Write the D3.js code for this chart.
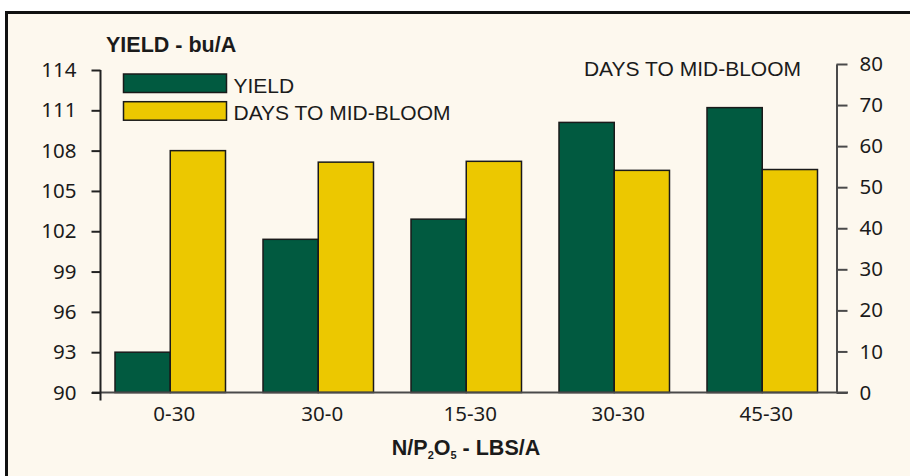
<!DOCTYPE html>
<html>
<head>
<meta charset="utf-8">
<script src="https://cdn.jsdelivr.net/npm/d3@7"></script>
<style>
  html, body { margin: 0; padding: 0; background: #ffffff; }
  svg { display: block; }
</style>
</head>
<body>
<svg id="chart" width="910" height="476"></svg>
<script>
// Treatment rates (N/P2O5, lbs per acre)
const categories = ["0-30", "30-0", "15-30", "30-30", "45-30"];
// Yield, bushels per acre (left axis)
const yieldValues = [93.0, 101.4, 102.9, 110.1, 111.2];
// Days to mid-bloom (right axis)
const bloomDays = [58.9, 56.1, 56.3, 54.1, 54.3];
// Axis tick labels
const yieldTicks = [90, 93, 96, 99, 102, 105, 108, 111, 114];
const dayTicks = [0, 10, 20, 30, 40, 50, 60, 70, 80];
const seriesNames = ["YIELD", "DAYS TO MID-BLOOM"];

const colors = { yield: "#015a40", days: "#ecc800" };
const ink = "#1b1b1b";
const titleFont = "'Liberation Sans', Arial, sans-serif";
const tickFont = "'Noto Sans', 'Liberation Sans', sans-serif";
const tickSize = 20.5;

const svg = d3.select("#chart");

// panel with heavy border
svg.append("rect")
  .attr("x", 6.5).attr("y", 12.5)
  .attr("width", 920).attr("height", 480)
  .attr("fill", "#fdf8ee")
  .attr("stroke", "#111").attr("stroke-width", 3);

const plotBottom = 392.5;

const x = d3.scaleBand()
  .domain(categories)
  .range([100, 832.5])
  .paddingInner(0.2534)
  .paddingOuter(0.1014);

const xSub = d3.scaleBand()
  .domain(["yield", "days"])
  .range([0, x.bandwidth()]);

const yLeft = d3.scaleLinear().domain([90, 114]).range([plotBottom, 70]);
const yRight = d3.scaleLinear().domain([0, 80]).range([plotBottom, 64]);

// bars
const groups = svg.append("g").selectAll("g")
  .data(categories)
  .join("g")
  .attr("transform", d => `translate(${x(d)},0)`);

groups.append("rect")
  .attr("x", xSub("yield"))
  .attr("width", xSub.bandwidth())
  .attr("y", (d, i) => yLeft(yieldValues[i]))
  .attr("height", (d, i) => plotBottom - yLeft(yieldValues[i]))
  .attr("fill", colors.yield)
  .attr("stroke", "#1a1a1a").attr("stroke-width", 1.5);

groups.append("rect")
  .attr("x", xSub("days"))
  .attr("width", xSub.bandwidth())
  .attr("y", (d, i) => yRight(bloomDays[i]))
  .attr("height", (d, i) => plotBottom - yRight(bloomDays[i]))
  .attr("fill", colors.days)
  .attr("stroke", "#1a1a1a").attr("stroke-width", 1.5);

// x baseline and category labels
const xAxis = svg.append("g")
  .attr("transform", `translate(0,${plotBottom})`)
  .call(d3.axisBottom(x).tickSize(0).tickSizeOuter(0).tickPadding(14));
xAxis.select(".domain").remove();
xAxis.append("line")
  .attr("x1", 92).attr("x2", 848)
  .attr("stroke", "#4a4a4a").attr("stroke-width", 2);
xAxis.selectAll("text")
  .attr("dx", 4)
  .attr("font-family", tickFont).attr("font-size", tickSize)
  .attr("fill", ink);

// left axis
const leftAxis = svg.append("g")
  .attr("transform", "translate(100.5,0)")
  .call(d3.axisLeft(yLeft).tickValues(yieldTicks).tickSize(9).tickSizeOuter(0).tickPadding(15));
leftAxis.select(".domain").remove();
leftAxis.append("line")
  .attr("y1", yLeft(114)).attr("y2", plotBottom + 8)
  .attr("stroke", "#222").attr("stroke-width", 2);
leftAxis.selectAll(".tick line").attr("stroke", "#222").attr("stroke-width", 2);
leftAxis.selectAll("text")
  .attr("font-family", tickFont).attr("font-size", tickSize)
  .attr("fill", ink);

// right axis
const rightAxis = svg.append("g")
  .attr("transform", "translate(836.5,0)")
  .call(d3.axisRight(yRight).tickValues(dayTicks).tickSize(11).tickSizeOuter(0).tickPadding(12));
rightAxis.select(".domain").attr("stroke", "#4a4a4a").attr("stroke-width", 2);
rightAxis.selectAll(".tick line").attr("stroke", "#4a4a4a").attr("stroke-width", 2);
rightAxis.selectAll("text")
  .attr("font-family", tickFont).attr("font-size", tickSize)
  .attr("fill", ink);

// axis titles
svg.append("text")
  .attr("x", 106).attr("y", 52)
  .attr("font-family", titleFont).attr("font-size", 21.5).attr("font-weight", "bold")
  .attr("fill", ink)
  .text("YIELD - bu/A");

svg.append("text")
  .attr("x", 801).attr("y", 76)
  .attr("text-anchor", "end")
  .attr("font-family", titleFont).attr("font-size", 21)
  .attr("fill", ink)
  .text("DAYS TO MID-BLOOM");

const xTitle = svg.append("text")
  .attr("x", 466).attr("y", 455)
  .attr("text-anchor", "middle")
  .attr("font-family", titleFont).attr("font-size", 21.5).attr("font-weight", "bold")
  .attr("fill", ink);
xTitle.append("tspan").text("N/P");
xTitle.append("tspan").attr("font-size", 11).attr("dy", 4).text("2");
xTitle.append("tspan").attr("dy", -4).text("O");
xTitle.append("tspan").attr("font-size", 11).attr("dy", 4).text("5");
xTitle.append("tspan").attr("dy", -4).text(" - LBS/A");

// legend
const legend = svg.append("g").attr("transform", "translate(123.5,74)");
const legendItems = legend.selectAll("g")
  .data(seriesNames)
  .join("g")
  .attr("transform", (d, i) => `translate(0,${i * 27.7})`);
legendItems.append("rect")
  .attr("width", 103).attr("height", 18.5)
  .attr("fill", (d, i) => i === 0 ? colors.yield : colors.days)
  .attr("stroke", "#1a1a1a").attr("stroke-width", 1.5);
legendItems.append("text")
  .attr("x", 110).attr("y", 18.7)
  .attr("font-family", titleFont).attr("font-size", 21)
  .attr("fill", ink)
  .text(d => d);
</script>
</body>
</html>
